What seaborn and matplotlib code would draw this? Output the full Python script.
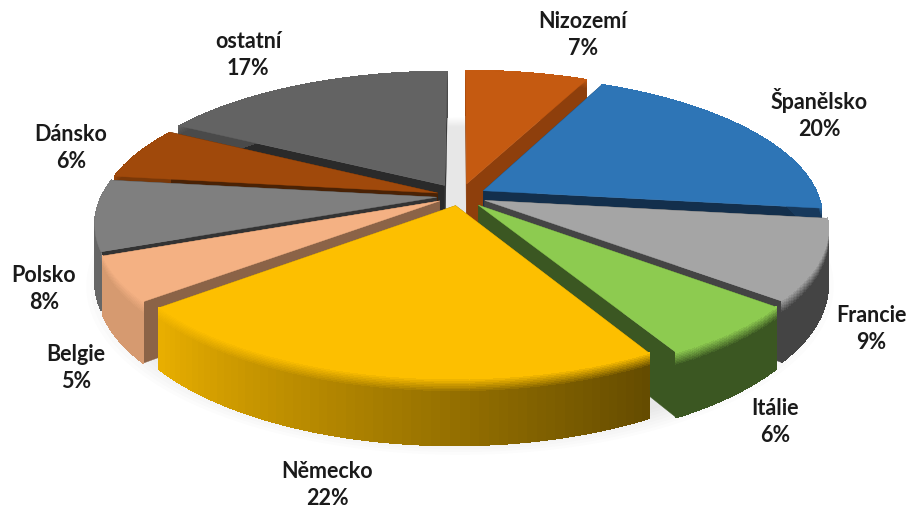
import numpy as np
import matplotlib
matplotlib.use("Agg")
import matplotlib.pyplot as plt
from matplotlib.collections import PolyCollection
from matplotlib.colors import to_rgb
import seaborn as sns

# data
countries = ["Nizozemí", "Španělsko", "Francie", "Itálie", "Německo", "Belgie", "Polsko", "Dánsko", "ostatní"]
shares = [7, 20, 9, 6, 22, 5, 8, 6, 17]

# styles
top_colors = ["#C55A11", "#2E75B6", "#A5A5A5", "#8DCB50", "#FDBF00", "#F4B183", "#7F7F7F", "#A0490B", "#636363"]
cut_colors = ["#8E3F0C", "#132F4C", "#444444", "#3B5722", "#8A6800", "#8B6347", "#333333", "#4A2205", "#2A2A2A"]
wall_start = ["#8E3F0C", "#17395C", "#444444", "#3B5722", "#654C00", "#D69A70", "#666666", "#7A3808", "#4A4A4A"]
wall_end = ["#8E3F0C", "#17395C", "#444444", "#3B5722", "#E8AE00", "#D69A70", "#666666", "#7A3808", "#4A4A4A"]
explode = [0.09, 0.08, 0.08, 0.085, 0.07, 0.07, 0.07, 0.07, 0.09]
label_xy = [(583, 35), (819, 114), (871, 329), (775, 422), (327, 485), (76, 368), (44, 289), (71, 148), (248, 55)]

# perspective of the tilted disc
CX, CY = 460, 197
A, B, PERSP, DEPTH = 335, 138, 0.18, 54
BEVEL = 0.2


def project(u, v, z=0.0):
    w = 1 + PERSP * v
    return CX + A * u / w, CY + (-B * v + DEPTH * z) / w


def mix(c1, c2, f):
    a, b = np.array(to_rgb(c1)), np.array(to_rgb(c2))
    return tuple(a + (b - a) * f)


sns.set_theme(style="white")
plt.rcParams["font.family"] = ["Lato", "DejaVu Sans"]

fig = plt.figure(figsize=(9.09, 5.10), dpi=100)
ax = fig.add_axes([0, 0, 1, 1])
ax.set_xlim(0, 909)
ax.set_ylim(510, 0)
ax.axis("off")

# soft shadow under the pie
t = np.linspace(0, 2 * np.pi, 200)
for k in range(8):
    r = 1.09 - k * 0.012
    sx, sy = project(np.sin(t) * r, np.cos(t) * r - 0.02, 1.0)
    ax.fill(sx, sy, color="#000000", alpha=0.013, lw=0, zorder=1)

edges = np.cumsum([0] + shares) / sum(shares) * 2 * np.pi
mids = (edges[:-1] + edges[1:]) / 2
order = np.argsort(-np.cos(mids))

bands = np.r_[np.linspace(0, BEVEL, 9), 1.0]
z = 2
for i in order:
    t = np.linspace(edges[i], edges[i + 1], 60)
    ou, ov = explode[i] * np.sin(mids[i]), explode[i] * np.cos(mids[i])
    u, v = ou + np.sin(t), ov + np.cos(t)

    # cut faces
    for j in (0, -1):
        x0, y0 = project(ou, ov, 0)
        x1, y1 = project(u[j], v[j], 0)
        x2, y2 = project(u[j], v[j], 1)
        x3, y3 = project(ou, ov, 1)
        ax.fill([x0, x1, x2, x3], [y0, y1, y2, y3], color=cut_colors[i], lw=0.3, zorder=z)
    z += 1

    # outer wall: gradient along the arc, bevel fading from the top colour
    polys, cols = [], []
    for n in range(len(t) - 1):
        wall = mix(wall_start[i], wall_end[i], n / (len(t) - 2))
        for b in range(len(bands) - 1):
            q = [project(u[n], v[n], bands[b]), project(u[n + 1], v[n + 1], bands[b]),
                 project(u[n + 1], v[n + 1], bands[b + 1]), project(u[n], v[n], bands[b + 1])]
            polys.append(q)
            cols.append(mix(top_colors[i], wall, min(1, bands[b] / BEVEL)))
    ax.add_collection(PolyCollection(polys, facecolors=cols, edgecolors=cols, linewidths=0.5,
                                     antialiaseds=False, zorder=z))
    z += 1

    # top face
    tx, ty = project(np.r_[ou, u], np.r_[ov, v], 0)
    ax.fill(tx, ty, color=top_colors[i], lw=0.3, zorder=z)
    z += 1

for name, share, (lx, ly) in zip(countries, shares, label_xy):
    ax.text(lx, ly, f"{name}\n{share}%", ha="center", va="center", fontsize=15.5,
            fontweight="bold", color="#1a1a1a", linespacing=1.35, zorder=100)

fig.savefig("out.png", dpi=100)
